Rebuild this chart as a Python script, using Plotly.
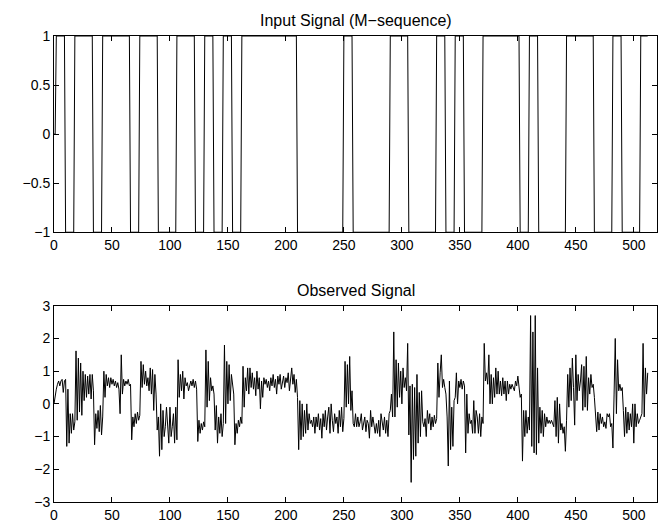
import plotly.graph_objects as go

# ---- Input signal (M-sequence): switch positions and run levels
input_start = [0, 0]              # samples before the first chip
input_switch = [2, 10, 18, 34, 42, 66, 74, 90, 106, 122, 130, 138, 146, 154, 162,
                210, 250, 258, 290, 306, 330, 338, 346, 354, 370, 402, 410, 418,
                442, 466, 482, 490, 506]
input_level = [1, -1, 1, -1, 1, -1, 1, -1, 1, -1, 1, -1, 1, -1, 1,
               -1, 1, -1, 1, -1, 1, -1, 1, -1, 1, -1, 1, -1,
               1, -1, 1, -1, 1]
n_samples = 513

# ---- Observed signal, in chunks
obs_a = [0.0, 0.3, 0.45, 0.6, 0.7, 0.55, 0.7, 0.75, 0.35, 0.7,
         0.75, -1.3, 0.45, -1.2, -0.3, -0.9, -0.3, -0.8, -0.55, 1.62,
         -0.5, 1.4, -0.25, 1.25, -0.35, 1.0, 0.1, 0.9, 0.2, 0.85,
         0.3, 0.9, 0.15, 0.9, 0.4, -1.25, -0.3, -0.75, -0.2, -0.85,
         -0.05, -0.95, -0.4, 1.0, 0.2, 0.9, 0.55, 0.8, 0.5, 0.8,
         0.6, 0.75, 0.55, 0.7, 0.5, 0.65, 0.45, -0.3, 1.5, 0.3,
         0.75, 0.55, 0.7, 0.6]
obs_b = [0.75, 0.55, 0.6, -1.1, -0.4, -0.7,
         -0.3, -0.6, -0.25, -0.5, -0.35, 1.3, 0.5, 1.2, 0.6, 1.0,
         0.55, 0.8, 0.4, 1.1, 0.3, 1.05, -0.2, 0.9, 0.3, -0.8,
         -0.4, -1.6, 0.0, -1.4, -0.2, -1.0, -0.7, -0.1, -0.7, -1.2,
         -0.1, -1.0, -0.7, -0.3, -1.2, -0.1, -1.1, 1.35, 0.2, 0.9,
         0.4, 1.0, 0.15, 0.8, 0.55, 0.65, 0.4, 0.6, 0.7, 0.55,
         0.75, 0.5, 0.7, 0.45, -1.15, -0.5, -0.9, -0.6]
obs_c = [-0.8, -0.55,
         -0.7, 1.65, -0.1, 1.3, 0.1, 0.8, 0.4, 0.55, 0.3, -0.8,
         -0.05, -1.2, -0.4, -0.9, -0.3, -1.0, -0.6, 1.8, -0.6, 1.3,
         0.0, 1.2, 0.1, 0.9, 0.55, 0.3, -1.25, -0.6, -0.9, -0.5,
         -0.7, -0.4, -0.6, 1.15, -0.1, 0.8, 0.4, 1.1, 0.3, 1.1,
         0.5, 0.95, 0.45, 0.8, 0.25, 1.0, 0.45, 0.8, -0.15, 0.7,
         0.2, 0.8, 0.6, 0.75, 0.5, 0.7, 0.4, 0.8, 0.55, 0.9,
         0.5, 0.75]
obs_d = [0.3, 0.85, 0.6, 0.9, 0.45, 0.7, 0.85, 0.5,
         0.8, 0.65, 0.95, 0.4, 0.85, 1.1, 0.6, 0.9, 0.35, 0.75,
         0.2, -1.4, 0.1, -1.1, 0.0, -1.0, -0.2, -0.9, 0.0, -0.8,
         -0.3, -0.6, -0.5, -0.7, -0.4, -0.9, -0.4, -0.7, -0.3, -0.8,
         -0.45, -1.05, -0.3, -0.7, -0.2, -0.8, -0.4, -0.1, -0.9, 0.0,
         -0.5, -0.85, -0.3, -0.6, -0.4, -0.9, -0.2, -0.7, -0.1, -0.85,
         -0.45, 1.3, -0.1, 1.2, 0.0, 1.45]
obs_e = [-0.2, 0.4, -0.6, -0.7,
         -0.3, -0.7, -0.4, -0.7, -0.55, -0.3, -0.8, -0.6, -0.4, -0.85,
         -0.5, -0.6, -1.05, -0.2, -0.7, -0.4, -0.65, -0.9, -0.6, -0.9,
         -0.5, -1.0, -0.3, -0.6, -0.8, -0.4, -0.9, -0.5, -1.0, -0.3,
         -0.2, 0.3, -0.4, 2.2, -0.4, 1.35, -0.1, 1.25, 0.2, 1.0,
         0.0, 1.1, 0.5, 0.8, 0.4, 1.85, -0.95, 0.55, -2.4, 0.6,
         -1.7, 0.5, -1.6, 0.9, -1.2, 0.35, -1.0, 0.4, -0.55, -0.7]
obs_f = [-0.45, -1.0, -0.2, -0.6, -0.3, -0.8, -0.4, -0.7, -0.35, -0.6,
         -0.45, 1.25, 0.2, 0.95, 1.5, 0.5, 0.75, 0.5, 0.3, -0.4,
         -1.9, 0.7, -1.4, -0.1, -1.3, 0.1, 0.2, 0.95, 0.0, 0.7,
         0.5, 0.75, 0.45, 0.7, 0.55, -1.5, 0.3, -0.9, -0.3, -0.6,
         -0.5, -0.9, 0.1, -0.9, -0.2, -0.4, -0.9, -0.3, -1.0, -0.4,
         -0.6, 1.85, 0.7, 0.95, 0.6, 1.5, 0.0, 0.9, 0.0, 0.8,
         0.2, 1.1, 0.3, 1.0]
obs_g = [0.3, 0.7, 0.25, 0.8, 0.3, 0.7,
         0.1, 0.7, 0.3, 0.6, 0.45, 0.6, 0.5, 0.4, 0.7, 0.55,
         0.85, 0.6, 0.2, 0.3, -1.75, -0.2, -1.0, -0.2, -0.9, -0.4,
         -0.8, 2.7, -1.3, 2.2, -1.5, 2.7, -1.55, 1.1, -1.2, -0.1,
         -0.9, -0.2, -1.0, -0.3, -0.7, -0.4, -0.6, -0.5, -0.6, -0.5,
         -0.6, -0.7, 0.1, -1.0, 0.2, -1.2, 0.0, -0.8, -0.6, -0.9,
         -0.7, -1.45, -0.5, 0.9, -0.1, 1.1, 0.1, 1.4]
obs_h = [0.5, -0.65,
         1.5, 0.1, 0.9, 0.4, 0.7, 1.2, -0.2, 1.15, -0.1, 1.45,
         -0.2, 0.8, 0.3, 0.9, 0.5, 0.6, 0.2, -0.2, -0.85, -0.25,
         -0.8, -0.3, -0.6, -0.4, -0.7, -0.55, -0.75, -0.3, -0.4, -0.3,
         -0.7, -0.6, -1.35, 0.3, 2.0, -0.3, 1.35, 0.4, 0.6, 0.4,
         0.5, -0.2, -1.0, -0.1, -0.9, -0.25, -0.8, -0.3, -0.7, 0.0,
         -1.2, 0.0, -0.7, -0.3, -0.6, -0.5, -0.4, -0.3, 1.85, -0.4,
         1.1, 0.3, 0.95]

observed = obs_a + obs_b + obs_c + obs_d + obs_e + obs_f + obs_g + obs_h

# build input samples from the runs
u = list(input_start)
for k, s in enumerate(input_switch):
    end = input_switch[k + 1] if k + 1 < len(input_switch) else n_samples
    u += [input_level[k]] * (end - s)
x_in = list(range(len(u)))
x_obs = list(range(len(observed)))

x_ticks = [0, 50, 100, 150, 200, 250, 300, 350, 400, 450, 500]
y_ticks_top = [-1, -0.5, 0, 0.5, 1]
y_ticks_bot = [-3, -2, -1, 0, 1, 2, 3]

fig = go.Figure()
fig.add_trace(go.Scatter(x=x_in, y=u, mode="lines", xaxis="x", yaxis="y",
                         line=dict(color="black", width=1), showlegend=False))
fig.add_trace(go.Scatter(x=x_obs, y=observed, mode="lines", xaxis="x2", yaxis="y2",
                         line=dict(color="black", width=1), showlegend=False))

font = dict(family="Liberation Sans, Arial, Helvetica, sans-serif", size=14, color="black")
ax_common = dict(showline=True, linecolor="black", linewidth=1, mirror="ticks",
                 ticks="inside", ticklen=5, tickcolor="black", tickwidth=1,
                 showgrid=False, zeroline=False, tickfont=font)

fig.update_layout(
    width=672, height=527,
    margin=dict(l=46, r=23, t=28, b=24),
    paper_bgcolor="white", plot_bgcolor="white",
    font=font,
    xaxis=dict(domain=[0, 1], anchor="y", range=[0, 520], tickvals=x_ticks, **ax_common),
    yaxis=dict(domain=[0.5789, 1], anchor="x", range=[-1, 1], tickvals=y_ticks_top, **ax_common),
    xaxis2=dict(domain=[0, 1], anchor="y2", range=[0, 520], tickvals=x_ticks, **ax_common),
    yaxis2=dict(domain=[0, 0.4211], anchor="x2", range=[-3, 3], tickvals=y_ticks_bot, **ax_common),
    annotations=[
        dict(text="Input Signal (M\u2212sequence)", x=0.5, y=1.0, xref="paper", yref="paper",
             xanchor="center", yanchor="bottom", yshift=5, showarrow=False,
             font=dict(family=font["family"], size=16, color="black")),
        dict(text="Observed Signal", x=0.5, y=0.4211, xref="paper", yref="paper",
             xanchor="center", yanchor="bottom", yshift=5, showarrow=False,
             font=dict(family=font["family"], size=16, color="black")),
    ],
)

fig.write_html("out.html")
